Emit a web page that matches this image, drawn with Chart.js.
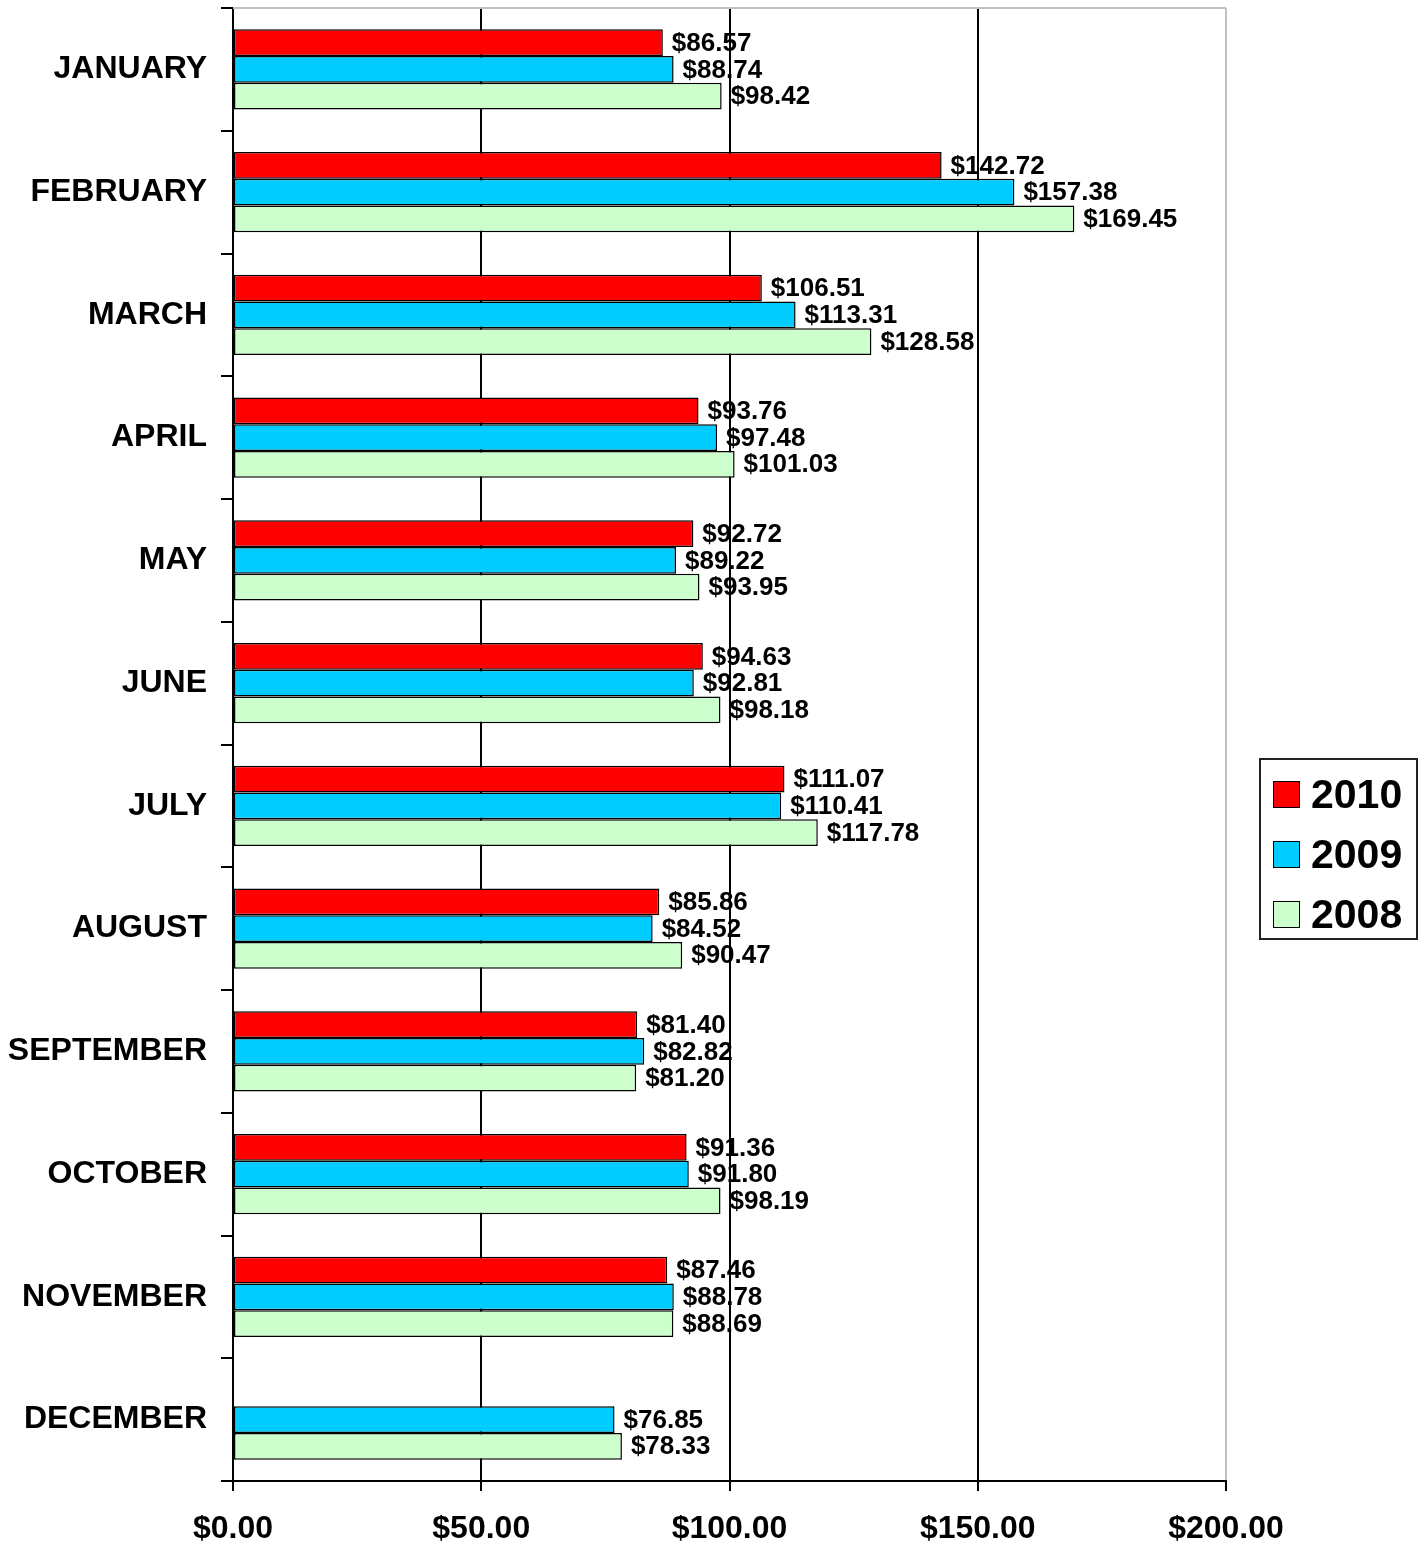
<!DOCTYPE html>
<html>
<head>
<meta charset="utf-8">
<script src="https://cdn.jsdelivr.net/npm/chart.js@4/dist/chart.umd.min.js"></script>
<style>
  body { margin: 0; background: #fff; }
  #wrap { position: relative; width: 1426px; height: 1545px; }
  #legend {
    position: absolute; left: 1259px; top: 758px; width: 155px; height: 178px;
    border: 2px solid #222; background: #fff;
    font-family: "Liberation Sans", Arial, sans-serif; font-weight: bold; font-size: 41px;
  }
  .item { position: absolute; left: 12px; height: 60px; display: flex; align-items: center; }
  .swatch { width: 25px; height: 25px; border: 1.5px solid #000; margin-right: 11px; }
</style>
</head>
<body>
<div id="wrap">
  <canvas id="chart" width="1426" height="1545"></canvas>
  <div id="legend"></div>
</div>
<script>
// Monthly values, one array per year
const months = ['JANUARY', 'FEBRUARY', 'MARCH', 'APRIL', 'MAY', 'JUNE', 'JULY',
    'AUGUST', 'SEPTEMBER', 'OCTOBER', 'NOVEMBER', 'DECEMBER'];
const values2010 = [86.57, 142.72, 106.51, 93.76, 92.72, 94.63, 111.07, 85.86, 81.40, 91.36, 87.46, null];
const values2009 = [88.74, 157.38, 113.31, 97.48, 89.22, 92.81, 110.41, 84.52, 82.82, 91.80, 88.78, 76.85];
const values2008 = [98.42, 169.45, 128.58, 101.03, 93.95, 98.18, 117.78, 90.47, 81.20, 98.19, 88.69, 78.33];
const seriesNames = ['2010', '2009', '2008'];
const seriesColors = ['#FF0000', '#00CCFF', '#CCFFCC'];
const xTicks = [0, 50, 100, 150, 200];

const FONT = '"Liberation Sans", Arial, sans-serif';

function money(v) {
    return '$' + Number(v).toFixed(2);
}

// Draws the value next to the end of each bar
const valueLabels = {
    id: 'valueLabels',
    afterDatasetsDraw(chart) {
        const ctx = chart.ctx;
        ctx.save();
        ctx.font = 'bold 26px ' + FONT;
        ctx.fillStyle = '#000';
        ctx.textAlign = 'left';
        ctx.textBaseline = 'middle';
        chart.data.datasets.forEach((ds, i) => {
            chart.getDatasetMeta(i).data.forEach((bar, j) => {
                const v = ds.data[j];
                if (v === null || v === undefined) return;
                ctx.fillText(money(v), bar.x + 9, bar.y + 1);
            });
        });
        ctx.restore();
    }
};

// Light grey frame along the top of the plot area
const plotFrame = {
    id: 'plotFrame',
    beforeDatasetsDraw(chart) {
        const { ctx, chartArea } = chart;
        ctx.save();
        ctx.strokeStyle = '#c0c0c0';
        ctx.lineWidth = 2;
        ctx.beginPath();
        ctx.moveTo(chartArea.left, chartArea.top);
        ctx.lineTo(chartArea.right, chartArea.top);
        ctx.stroke();
        ctx.restore();
    }
};

const datasets = [values2010, values2009, values2008].map((vals, i) => ({
    label: seriesNames[i],
    data: vals,
    backgroundColor: seriesColors[i],
    borderColor: '#000',
    borderWidth: 1.5,
    borderSkipped: false,
    categoryPercentage: 0.652,
    barPercentage: 1.0,
}));

new Chart(document.getElementById('chart'), {
    type: 'bar',
    data: { labels: months, datasets: datasets },
    options: {
        indexAxis: 'y',
        responsive: false,
        animation: false,
        devicePixelRatio: 1,
        layout: { autoPadding: false, padding: { top: 8, right: 200, left: 0, bottom: 0 } },
        plugins: {
            legend: { display: false },
            tooltip: { enabled: false },
        },
        scales: {
            x: {
                min: 0,
                max: 200,
                afterBuildTicks(scale) {
                    scale.ticks = xTicks.map(v => ({ value: v }));
                },
                afterFit(scale) { scale.height = 64; },
                border: { display: true, color: '#000', width: 2 },
                grid: {
                    color: (c) => (c.tick && c.tick.value === 200 ? '#c0c0c0' : '#000'),
                    tickColor: '#000',
                    lineWidth: 2,
                    tickLength: 10,
                },
                ticks: {
                    color: '#000',
                    padding: 19,
                    font: { family: FONT, weight: 'bold', size: 32 },
                    callback: (v) => money(v),
                },
            },
            y: {
                afterFit(scale) {
                    scale.width = 233;
                    scale.paddingTop = 0;
                    scale.paddingBottom = 0;
                },
                border: { display: true, color: '#000', width: 2 },
                grid: {
                    offset: true,
                    drawOnChartArea: false,
                    color: '#000',
                    lineWidth: 2,
                    tickLength: 12,
                },
                ticks: {
                    color: '#000',
                    padding: 14,
                    font: { family: FONT, weight: 'bold', size: 32 },
                },
            },
        },
    },
    plugins: [valueLabels, plotFrame],
});

// Legend box on the right
const legend = document.getElementById('legend');
seriesNames.forEach((name, i) => {
    const item = document.createElement('div');
    item.className = 'item';
    item.style.top = (4 + i * 60) + 'px';
    const sw = document.createElement('div');
    sw.className = 'swatch';
    sw.style.background = seriesColors[i];
    item.appendChild(sw);
    item.appendChild(document.createTextNode(name));
    legend.appendChild(item);
});
</script>
</body>
</html>
